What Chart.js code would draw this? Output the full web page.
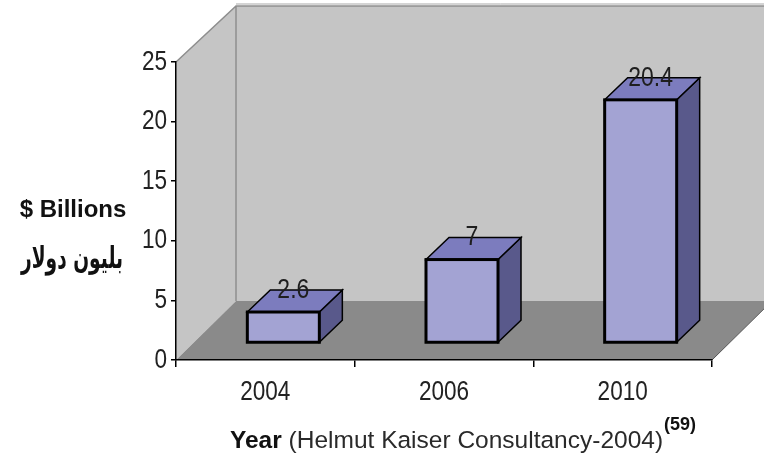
<!DOCTYPE html>
<html>
<head>
<meta charset="utf-8">
<script src="https://cdn.jsdelivr.net/npm/chart.js@4.4.1/dist/chart.umd.min.js"></script>
<style>
  html, body { margin: 0; padding: 0; background: #ffffff; }
  canvas { display: block; }
</style>
</head>
<body>
<canvas id="c" width="764" height="463"></canvas>
<script>
// Market size by year, in billions of dollars
const years = ['2004', '2006', '2010'];
const billions = [2.6, 7, 20.4];
const yTickMin = 0;
const yTickMax = 25;
const yTickStep = 5;

const SANS = "'Liberation Sans', Arial, sans-serif";
const NARROW_SCALE = 0.82;   // condensed look for numbers

// Oblique depth of the plot box (walls + floor)
const WALL_DX = 60, WALL_DY_TOP = 56, WALL_DY_BOTTOM = 59;
// Where the bars sit inside that depth, and how deep they are
const BAR_FX = 18, BAR_FY = 17, BAR_DX = 23, BAR_DY = 22;

const colors = {
  wall: '#c5c5c5',
  floor: '#8a8a8a',
  wallEdge: '#8e8e8e',
  front: '#a3a3d3',
  top: '#7c7cbe',
  side: '#59598b',
  text: '#1e1e1e'
};

function poly(ctx, pts) {
  ctx.beginPath();
  ctx.moveTo(pts[0][0], pts[0][1]);
  for (let i = 1; i < pts.length; i++) ctx.lineTo(pts[i][0], pts[i][1]);
  ctx.closePath();
}

// Horizontally condensed text
function narrowText(ctx, text, x, y, size, align) {
  ctx.save();
  ctx.translate(x, y);
  ctx.scale(NARROW_SCALE, 1);
  ctx.font = size + 'px ' + SANS;
  ctx.textAlign = align;
  ctx.textBaseline = 'middle';
  ctx.fillText(text, 0, 0);
  ctx.restore();
}

const box3d = {
  id: 'box3d',
  beforeDraw(chart) {
    const ctx = chart.ctx;
    const a = chart.chartArea;
    ctx.save();
    const bTop = a.top - WALL_DY_TOP, bBot = a.bottom - WALL_DY_BOTTOM;
    // back wall
    ctx.fillStyle = colors.wall;
    ctx.fillRect(a.left + WALL_DX, bTop, a.right - a.left + 10, bBot - bTop);
    // left side wall
    poly(ctx, [[a.left, a.top], [a.left + WALL_DX, bTop], [a.left + WALL_DX, bBot], [a.left, a.bottom]]);
    ctx.fill();
    // floor
    ctx.fillStyle = colors.floor;
    poly(ctx, [[a.left, a.bottom], [a.right, a.bottom], [a.right + WALL_DX, bBot], [a.left + WALL_DX, bBot]]);
    ctx.fill();
    // wall edges
    ctx.strokeStyle = colors.wallEdge;
    ctx.lineWidth = 1.5;
    ctx.beginPath();
    ctx.moveTo(a.left, a.top);
    ctx.lineTo(a.left + WALL_DX, bTop);
    ctx.lineTo(chart.width + 20, bTop);
    ctx.moveTo(a.left + WALL_DX, bTop);
    ctx.lineTo(a.left + WALL_DX, bBot);
    ctx.stroke();
    ctx.strokeStyle = '#a9a9a9';
    ctx.lineWidth = 1;
    ctx.beginPath();
    ctx.moveTo(a.left + WALL_DX, bTop - 2);
    ctx.lineTo(chart.width + 20, bTop - 2);
    ctx.stroke();
    // floor right edge
    ctx.strokeStyle = '#555';
    ctx.lineWidth = 1;
    ctx.beginPath();
    ctx.moveTo(a.right, a.bottom);
    ctx.lineTo(a.right + WALL_DX, bBot);
    ctx.stroke();
    ctx.restore();
  },
  afterDatasetsDraw(chart) {
    const ctx = chart.ctx;
    const meta = chart.getDatasetMeta(0);
    const data = chart.data.datasets[0].data;
    ctx.save();
    ctx.lineJoin = 'miter';
    meta.data.forEach((el, i) => {
      const p = el.getProps(['x', 'y', 'base', 'width'], true);
      const x1 = p.x - p.width / 2 + BAR_FX;
      const x2 = x1 + p.width;
      const yt = p.y - BAR_FY;
      const yb = p.base - BAR_FY;
      ctx.strokeStyle = '#000';
      // right side face
      ctx.fillStyle = colors.side;
      poly(ctx, [[x2, yt], [x2 + BAR_DX, yt - BAR_DY], [x2 + BAR_DX, yb - BAR_DY], [x2, yb]]);
      ctx.fill();
      ctx.lineWidth = 1.5;
      ctx.stroke();
      // top face
      ctx.fillStyle = colors.top;
      poly(ctx, [[x1, yt], [x1 + BAR_DX, yt - BAR_DY], [x2 + BAR_DX, yt - BAR_DY], [x2, yt]]);
      ctx.fill();
      ctx.stroke();
      // front face
      ctx.fillStyle = colors.front;
      ctx.fillRect(x1, yt, x2 - x1, yb - yt);
      ctx.lineWidth = 3;
      ctx.strokeRect(x1, yt, x2 - x1, yb - yt);
      // value label
      ctx.fillStyle = colors.text;
      narrowText(ctx, String(data[i]), (x1 + x2) / 2 + 10, yt - 22, 28, 'center');
    });
    ctx.restore();
  },
  afterDraw(chart) {
    const ctx = chart.ctx;
    ctx.save();
    // tick labels, placed from the scales
    ctx.fillStyle = '#222';
    const xs = chart.scales.x, ys = chart.scales.y;
    xs.ticks.forEach((t, i) => {
      narrowText(ctx, xs.getLabelForValue(t.value), xs.getPixelForTick(i), 392, 27.5, 'center');
    });
    ys.ticks.forEach((t, i) => {
      narrowText(ctx, String(t.value), ys.left + ys.width - 9, ys.getPixelForTick(i), 27.5, 'right');
    });

    // axis titles
    ctx.fillStyle = '#111';
    ctx.textBaseline = 'middle';
    ctx.textAlign = 'center';
    ctx.font = 'bold 24px ' + SANS;
    ctx.fillText('$ Billions', 73, 210, 110);
    ctx.font = "bold 30px 'DejaVu Sans', sans-serif";
    ctx.direction = 'rtl';
    ctx.fillText('بليون دولار', 72, 260, 102);
    ctx.direction = 'ltr';
    ctx.textAlign = 'left';
    let x = 230;
    ctx.font = 'bold 24.5px ' + SANS;
    ctx.fillText('Year', x, 441);
    x += ctx.measureText('Year').width;
    ctx.font = '24.5px ' + SANS;
    ctx.fillStyle = '#2a2a2a';
    ctx.fillText(' (Helmut Kaiser Consultancy-2004)', x, 441);
    x += ctx.measureText(' (Helmut Kaiser Consultancy-2004)').width;
    ctx.fillStyle = '#111';
    ctx.font = 'bold 18px ' + SANS;
    ctx.fillText('(59)', x + 1, 425);
    ctx.restore();
  }
};

new Chart(document.getElementById('c'), {
  type: 'bar',
  data: {
    labels: years,
    datasets: [{
      data: billions,
      backgroundColor: 'rgba(0,0,0,0)',
      borderWidth: 0,
      categoryPercentage: 1,
      barPercentage: 0.403
    }]
  },
  options: {
    responsive: false,
    devicePixelRatio: 1,
    animation: false,
    events: [],
    layout: { padding: { top: 62, right: 52, left: 0, bottom: 0 } },
    plugins: { legend: { display: false }, title: { display: false }, tooltip: { enabled: false } },
    scales: {
      x: {
        offset: true,
        grid: { display: true, drawOnChartArea: false, offset: true, tickLength: 7, color: '#000', lineWidth: 1.5 },
        border: { display: true, color: '#000', width: 1.5 },
        ticks: { color: 'rgba(0,0,0,0)', font: { family: SANS, size: 27 }, padding: 9, maxRotation: 0 },
        afterFit(scale) { scale.height = 103; }
      },
      y: {
        min: yTickMin,
        max: yTickMax,
        ticks: { stepSize: yTickStep, color: 'rgba(0,0,0,0)', font: { family: SANS, size: 27 }, padding: 4 },
        grid: { display: true, drawOnChartArea: false, tickLength: 5, color: '#000', lineWidth: 1.5 },
        border: { display: true, color: '#000', width: 1.5 },
        afterFit(scale) { scale.width = 176; }
      }
    }
  },
  plugins: [box3d]
});
</script>
</body>
</html>
